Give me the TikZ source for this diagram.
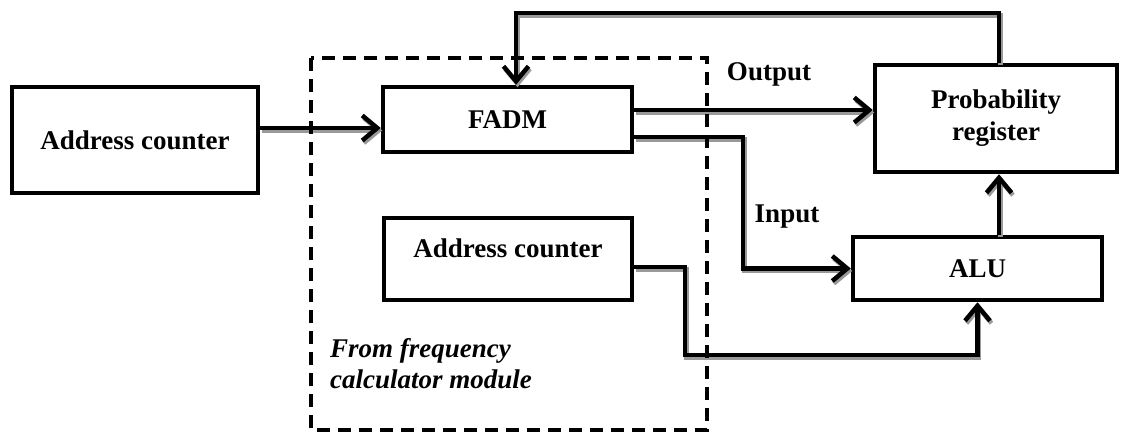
\documentclass[tikz,border=0pt]{standalone}
\usepackage{fontspec}
\setmainfont{Liberation Serif}
\usetikzlibrary{arrows.meta}
\newcommand\shconn[2]{%
  \begin{scope}[transform canvas={shift={(1.5pt,-2.5pt)}}]\draw[#1, draw=black!40] #2;\end{scope}
  \draw[#1] #2;}
\begin{document}
\begin{tikzpicture}[x=1pt,y=-1pt,
  box/.style={draw=black, line width=4.5pt, fill=white, inner sep=0pt, font=\fontsize{27}{32}\selectfont\bfseries, align=center},
  conn/.style={line width=4.5pt, line join=miter, -{Straight Barb[length=15pt,width=25pt,line width=4.5pt]}},
  lbl/.style={font=\fontsize{27}{32}\selectfont\bfseries, inner sep=0pt}]
\useasboundingbox (0,0) rectangle (1121,434);
% helper coordinates
\coordinate (fbR) at (999,13);
\coordinate (fbL) at (516,13);
\coordinate (inA) at (743,137);
\coordinate (inB) at (743,268.5);
\coordinate (a2A) at (685,267);
\coordinate (a2B) at (685,355);
\coordinate (a2C) at (977.5,355);
% boxes
\node[box, minimum width=246pt, minimum height=106pt] (ac1) at (135,140) {Address counter};
\node[box, minimum width=249pt, minimum height=65pt] (fadm) at (507.5,119.5) {FADM};
\node[box, minimum width=248pt, minimum height=82pt] (ac2) at (508,259) {};
\node[lbl] (ac2t) at (508,248) {Address counter};
\node[box, minimum width=242pt, minimum height=107pt] (prob) at (996,118.5) {Probability\\register};
\node[box, minimum width=249pt, minimum height=63pt] (alu) at (977.5,268.5) {ALU};
% labels
\node[lbl] (out) at (769,74) {Output};
\node[lbl] (inp) at (787,217) {Input};
\node[font=\fontsize{27}{31}\selectfont\bfseries\itshape, align=left, anchor=west, inner sep=0pt] (from) at (330,364) {From frequency\\calculator module};
% connectors
\shconn{conn}{(ac1.east |- 0,128) -- (fadm.west |- 0,128)}
\shconn{conn}{(fadm.east |- 0,110) -- (prob.west |- 0,110)}
\shconn{conn}{(fadm.east |- inA) -- (inA) -- (inB) -- (alu.west)}
\shconn{conn}{(ac2.east |- a2A) -- (a2A) -- (a2B) -- (a2C) -- (alu.south)}
\shconn{conn}{(alu.north -| fbR) -- (prob.south -| fbR)}
\shconn{conn}{(prob.north -| fbR) -- (fbR) -- (fbL) -- (fadm.north -| fbL)}
% dashed module
\draw[line width=4.5pt, dash pattern=on 13pt off 8pt] (311,58) rectangle (707,430);
\end{tikzpicture}
\end{document}
